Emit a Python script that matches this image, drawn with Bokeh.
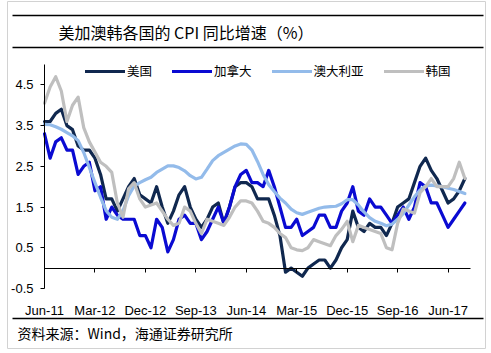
from bokeh.plotting import figure
from bokeh.models import (Range1d, FixedTicker, LinearAxis, Legend, LegendItem,
                          Label, BoxAnnotation, NumeralTickFormatter)
from bokeh.embed import file_html
from bokeh.resources import INLINE

# Monthly CPI YoY (%), Jun-2011 .. Sep-2017
us = [3.6, 3.6, 3.8, 3.9, 3.5, 3.4, 3.0,
      2.9, 2.9, 2.7, 2.3, 1.7, 1.7, 1.4, 1.7, 2.0, 2.2, 1.8, 1.7,
      1.6, 2.0, 1.5, 1.1, 1.4, 1.8, 2.0, 1.5, 1.2, 1.0, 1.2, 1.5,
      1.6, 1.1, 1.5, 2.0, 2.1, 2.1, 2.0, 1.7, 1.7, 1.7, 1.3, 0.8,
      -0.1, 0.0, -0.1, -0.2, 0.0, 0.1, 0.2, 0.2, 0.0, 0.2, 0.5, 0.7,
      1.4, 1.0, 0.9, 1.1, 1.0, 1.0, 0.8, 1.1, 1.5, 1.6, 1.7, 2.1,
      2.5, 2.7, 2.4, 2.2, 1.9, 1.6, 1.7, 1.9, 2.2]
canada = [3.3, 2.7, 3.1, 3.2, 2.9, 2.9, 2.3,
          2.5, 2.6, 1.9, 2.0, 1.2, 1.5, 1.3, 1.2, 1.2, 1.2, 0.8, 0.8,
          0.5, 1.2, 1.0, 0.4, 0.7, 1.2, 1.3, 1.1, 1.1, 0.7, 0.9, 1.2,
          1.5, 1.1, 1.5, 2.0, 2.3, 2.4, 2.1, 2.1, 2.0, 2.4, 2.0, 1.5,
          1.0, 1.0, 1.2, 0.8, 0.9, 1.0, 1.3, 1.3, 1.0, 1.0, 1.4, 1.6,
          2.0, 1.4, 1.3, 1.7, 1.5, 1.5, 1.3, 1.1, 1.3, 1.5, 1.2, 1.5,
          2.1, 2.0, 1.6, 1.6, 1.3, 1.0, 1.2, 1.4, 1.6]
australia = [3.53, 3.52, 3.47, 3.41, 3.33, 3.25, 3.13,
             2.84, 2.47, 2.10, 1.74, 1.41, 1.25, 1.20, 1.41, 1.78, 2.02, 2.10, 2.17,
             2.23, 2.35, 2.43, 2.51, 2.51, 2.47, 2.39, 2.27, 2.19, 2.23, 2.43, 2.64,
             2.76, 2.84, 2.92, 3.00, 3.05, 3.04, 2.90, 2.62, 2.30, 2.05, 1.88, 1.72,
             1.60, 1.45, 1.36, 1.32, 1.37, 1.42, 1.47, 1.50, 1.51, 1.52, 1.58, 1.68,
             1.68, 1.55, 1.38, 1.24, 1.15, 1.10, 1.04, 1.08, 1.20, 1.34, 1.55, 1.75,
             1.92, 2.02, 2.04, 2.02, 2.00, 1.96, 1.93, 1.88, 1.83]
korea = [4.05, 4.45, 4.70, 4.35, 3.60, 4.00, 4.20,
         3.45, 3.10, 2.85, 2.60, 2.50, 2.35, 1.60, 1.25, 1.95, 2.10, 1.70, 1.50,
         1.55, 1.60, 1.40, 1.20, 1.05, 1.10, 1.50, 1.40, 1.10, 0.85, 1.20, 1.15,
         1.10, 1.05, 1.25, 1.50, 1.65, 1.65, 1.60, 1.40, 1.15, 1.10, 1.00, 0.85,
         0.75, 0.50, 0.45, 0.43, 0.50, 0.70, 0.65, 0.60, 0.55, 0.80, 0.95, 1.15,
         0.65, 1.05, 1.00, 0.95, 0.90, 0.85, 0.50, 0.45, 1.10, 1.45, 1.40, 1.35,
         1.85, 2.00, 2.20, 2.00, 2.00, 2.00, 2.20, 2.60, 2.20]

series_names = ["美国", "加拿大", "澳大利亚", "韩国"]
series_colors = ["#10284f", "#0a0ad2", "#93bbea", "#bfbfbf"]

tick_labels = ["Jun-11", "Mar-12", "Dec-12", "Sep-13", "Jun-14",
               "Mar-15", "Dec-15", "Sep-16", "Jun-17"]
tick_step = 9
y_ticks = [-0.5, 0.5, 1.5, 2.5, 3.5, 4.5]
y_min, y_max = -0.5, 5.0

title_text = "美加澳韩各国的 CPI 同比增速（%）"
source_text = "资料来源：Wind，海通证券研究所"

months = list(range(len(us)))
tick_pos = [i * tick_step for i in range(len(tick_labels))]
x_end = 76

# ---- layout geometry (pixels) ----
W, H = 491, 353
FL, FR, FT, FB = 7, 485, 1, 348          # outer frame (light border)
PL, PR, PT, PB = 44, 470, 64, 288        # plotting area
xs = (PR - PL) / x_end
ys = (PB - PT) / (y_max - y_min)

x_range = Range1d(0 - (PL - FL) / xs, x_end + (FR - PR) / xs)
y_range = Range1d(y_min - (FB - PB) / ys, y_max + (PT - FT) / ys)

p = figure(width=W, height=H, output_backend="svg", toolbar_location=None,
           x_range=x_range, y_range=y_range,
           min_border_left=FL, min_border_right=W - FR, min_border_top=FT,
           min_border_bottom=H - FB, x_axis_location=None, y_axis_location=None)
p.outline_line_color = "#d2d2d2"
p.outline_line_width = 1
p.grid.visible = False
p.background_fill_color = "white"
p.border_fill_color = "white"

AX_FONT = "Liberation Sans"
CJK = "Noto Sans CJK SC"

# y axis at Jun-11
yaxis = LinearAxis(ticker=FixedTicker(ticks=y_ticks), fixed_location=0,
                   bounds=(y_min, y_max),
                   formatter=NumeralTickFormatter(format="0.0"))
yaxis.axis_line_color = "black"
yaxis.major_tick_line_color = "black"
yaxis.major_tick_out = 4
yaxis.major_tick_in = 0
yaxis.minor_tick_out = 0
yaxis.minor_tick_in = 0
yaxis.major_label_standoff = 7
yaxis.major_label_text_font = AX_FONT
yaxis.major_label_text_font_size = "13px"
yaxis.major_label_text_color = "black"
p.add_layout(yaxis, "left")

# x axis line at zero with downward ticks
xzero = LinearAxis(ticker=FixedTicker(ticks=tick_pos), fixed_location=0,
                   bounds=(0, x_end))
xzero.axis_line_color = "black"
xzero.major_tick_line_color = "black"
xzero.major_tick_in = 0
xzero.major_tick_out = 4
xzero.minor_tick_in = 0
xzero.minor_tick_out = 0
xzero.major_label_text_color = None
p.add_layout(xzero, "below")

# x labels at the bottom of the plotting area
xlab = LinearAxis(ticker=FixedTicker(ticks=tick_pos), fixed_location=y_min,
                  bounds=(0, x_end),
                  major_label_overrides={t: l for t, l in zip(tick_pos, tick_labels)})
xlab.axis_line_color = None
xlab.major_tick_line_color = None
xlab.minor_tick_line_color = None
xlab.major_label_standoff = 8
xlab.major_label_text_font = AX_FONT
xlab.major_label_text_font_size = "13px"
xlab.major_label_text_color = "black"
p.add_layout(xlab, "below")

items = []
for name, data, color in zip(series_names, [us, canada, australia, korea], series_colors):
    r = p.line(months, data, line_color=color, line_width=3.2,
               line_join="round", line_cap="round")
    items.append(LegendItem(label=name, renderers=[r]))

legend = Legend(items=items, orientation="horizontal", location=(85 - FL, FB - 80),
                glyph_width=40, glyph_height=14, label_standoff=2, spacing=20,
                padding=0, margin=0, background_fill_alpha=0, border_line_color=None,
                label_text_font=CJK, label_text_font_size="12.5px",
                label_text_color="black")
p.add_layout(legend)

# decorations: screen units relative to the frame's bottom-left corner
for Y in [15, 47, 318]:
    sy = FB - Y
    p.add_layout(BoxAnnotation(left=12 - FL, right=483 - FL, bottom=sy - 0.75, top=sy + 0.75,
                               left_units="screen", right_units="screen",
                               bottom_units="screen", top_units="screen",
                               fill_color="black", fill_alpha=1, line_color=None))

p.add_layout(Label(x=58 - FL, y=FB - 31, x_units="screen", y_units="screen",
                   text=title_text, text_baseline="middle", text_align="left",
                   text_font=CJK, text_font_size="16px", text_color="black"))
p.add_layout(Label(x=17 - FL, y=FB - 332, x_units="screen", y_units="screen",
                   text=source_text, text_baseline="middle", text_align="left",
                   text_font=CJK, text_font_size="14px", text_color="black"))

open("out.html", "w").write(file_html(p, INLINE))
